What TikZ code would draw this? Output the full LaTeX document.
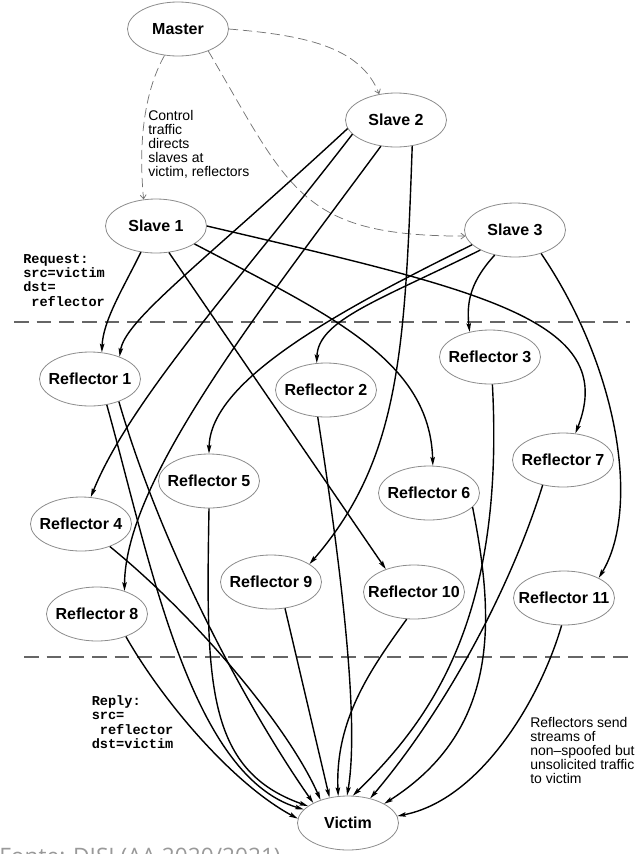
\documentclass[tikz,border=0pt]{standalone}
\usepackage{fontspec}
\setmainfont{Liberation Sans}
\setmonofont{Liberation Mono}
\newfontfamily\footfont{Open Sans}
\usetikzlibrary{shapes.geometric, arrows.meta}
\newcommand{\lbl}[1]{\makebox[0pt]{#1}}

\begin{document}
\begin{tikzpicture}[x=0.75pt, y=-0.75pt,
	ent/.style={ellipse, draw=black!45, line width=0.6pt, minimum width=75.75pt, minimum height=40.5pt, inner sep=0pt, font=\bfseries\fontsize{12}{14}\selectfont},
	req/.style={-{Stealth[length=6.5pt, width=3.4pt, inset=1.2pt]}, line width=1.05pt},
	ctrl/.style={-{Straight Barb[length=3pt, width=4.5pt]}, draw=black!55, line width=0.55pt, dash pattern=on 7pt off 3.5pt},
	sep/.style={draw=black!60, line width=1.1pt, dash pattern=on 11pt off 6pt},
	note/.style={inner sep=0pt, anchor=north west, align=left, font=\fontsize{10.5}{10.5}\selectfont},
	code/.style={inner sep=0pt, anchor=north west, align=left, font=\ttfamily\bfseries\fontsize{10.2}{10.7}\selectfont}]
	\useasboundingbox (0,0) rectangle (636,854);

	\node[ent] (m) at (178,29) {\lbl{Master}};
	\node[ent] (s2) at (396,120) {\lbl{Slave 2}};
	\node[ent] (s1) at (156,226) {\lbl{Slave 1}};
	\node[ent] (s3) at (515,230) {\lbl{Slave 3}};
	\node[ent] (r1) at (90,379) {\lbl{Reflector 1}};
	\node[ent] (r2) at (326,390) {\lbl{Reflector 2}};
	\node[ent] (r3) at (490,357) {\lbl{Reflector 3}};
	\node[ent] (r4) at (81,524) {\lbl{Reflector 4}};
	\node[ent] (r5) at (209,481) {\lbl{Reflector 5}};
	\node[ent] (r6) at (429,493) {\lbl{Reflector 6}};
	\node[ent] (r7) at (563,460) {\lbl{Reflector 7}};
	\node[ent] (r8) at (97,614) {\lbl{Reflector 8}};
	\node[ent] (r9) at (271,582) {\lbl{Reflector 9}};
	\node[ent] (r10) at (414,592) {\lbl{Reflector 10}};
	\node[ent] (r11) at (564,598) {\lbl{Reflector 11}};
	\node[ent] (v) at (348,823) {\lbl{Victim}};

	\node[note] (ctl) at (148,110.5) {Control\\traffic\\directs\\slaves at\\victim, reflectors};
	\node[code] (rq) at (23,254) {Request:\\src=victim\\dst=\\\phantom{x}reflector};
	\node[code] (rp) at (91.5,695.5) {Reply:\\src=\\\phantom{x}reflector\\dst=victim};
	\node[note] (snd) at (530,717) {Reflectors send\\streams of\\non--spoofed but\\unsolicited traffic\\to victim};
	\node[anchor=base west, inner sep=0pt, text=black!40, font=\footfont\fontsize{17}{20}\selectfont] (src) at (-1,864) {Fonte: DISI (AA 2020/2021)};

	\draw[sep] (14,322) -- (630,322);
	\draw[sep] (24,657) -- (636,657);

	\draw[ctrl] (m.east) .. controls (300,35) and (360,45) .. (s2.123);
	\draw[ctrl] (m.243) .. controls (145,90) and (138,140) .. (s1.115);
	\draw[ctrl] (m.324) .. controls (290,190) and (300,236) .. (s3.187);

	\draw[req] (s1.240) .. controls (125,285) and (103,320) .. (r1.66);
	\draw[req] (s1.296) -- (r10.141);
	\draw[req] (s1.335) .. controls (330,315) and (430,360) .. (r6.82);
	\draw[req] (s1.east) .. controls (480,290) and (620,320) .. (r7.65);

	\draw[req] (s2.190) .. controls (200,265) and (125,320) .. (r1.37);
	\draw[req] (s2.198) .. controls (240,280) and (130,400) .. (r4.70);
	\draw[req] (s2.240) .. controls (260,310) and (125,480) .. (r8.40);
	\draw[req] (s2.302) .. controls (405,350) and (400,460) .. (r9.25);

	\draw[req] (s3.210) .. controls (380,300) and (318,320) .. (r2.109);
	\draw[req] (s3.199) .. controls (340,310) and (210,380) .. (r5.north);
	\draw[req] (s3.231) .. controls (472,280) and (466,300) .. (r3.129);
	\draw[req] (s3.318) .. controls (620,370) and (640,510) .. (r11.30);

	\draw[req] (r1.303) .. controls (150,560) and (190,775) .. (v.163);
	\draw[req] (r1.322) .. controls (165,560) and (255,720) .. (v.150);
	\draw[req] (r4.322) .. controls (200,620) and (290,730) .. (v.140);
	\draw[req] (r5.south) .. controls (206,680) and (205,770) .. (v.157);
	\draw[req] (r8.322) .. controls (165,705) and (235,785) .. (v.175);
	\draw[req] (r9.298) -- (v.126);
	\draw[req] (r10.255) .. controls (370,670) and (335,720) .. (v.110);
	\draw[req] (r2.253) .. controls (340,560) and (360,720) .. (v.92);
	\draw[req] (r3.275) .. controls (505,620) and (430,720) .. (v.80);
	\draw[req] (r7.231) .. controls (510,590) and (445,710) .. (v.48);
	\draw[req] (r6.342) .. controls (495,620) and (500,730) .. (v.28);
	\draw[req] (r11.265) .. controls (540,700) and (480,800) .. (v.8);
\end{tikzpicture}
\end{document}
